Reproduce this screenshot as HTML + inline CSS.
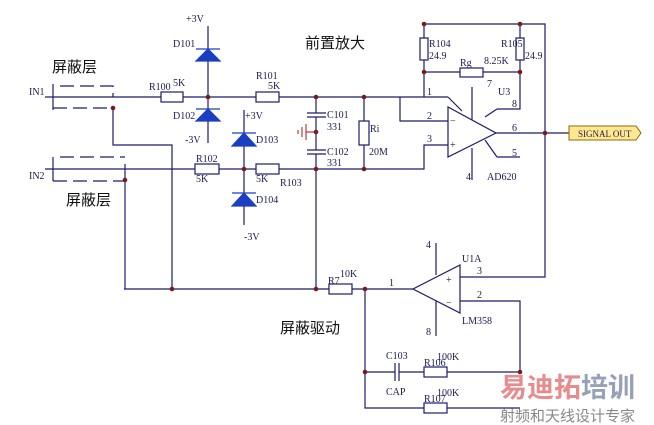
<!DOCTYPE html>
<html><head><meta charset="utf-8"><style>
html,body{margin:0;padding:0;background:#fff;}
svg{display:block;}
text{font-family:"Liberation Serif","Noto Serif CJK SC",serif;fill:#1a1a50;font-size:10px;}
.cn{font-family:"Liberation Sans","Noto Sans CJK SC",sans-serif;font-size:15px;fill:#111;}
</style></head><body>
<svg width="654" height="425" viewBox="0 0 654 425" xmlns="http://www.w3.org/2000/svg">
<g stroke="#1c1c6e" stroke-width="1.2" fill="none">
<!-- IN1 -->
<path d="M45 97H161M183 97H256M279 97H400H448"/>
<path d="M53 84V110"/>
<path d="M60 86H113V97" stroke-dasharray="14,6"/>
<path d="M53 108H113" stroke-dasharray="14,6"/>
<path d="M113 108V145H172V289"/>
<!-- IN2 -->
<path d="M45 169H195M219 169H256M279 169H424V145H448"/>
<path d="M53 157V181"/>
<path d="M60 157H125" stroke-dasharray="14,6"/>
<path d="M53 181H125" stroke-dasharray="14,6"/>
<path d="M125 164V289"/>
<!-- diodes lines -->
<path d="M208 26V143M244 110V225"/>
<!-- caps -->
<path d="M316 97V113M307 113H326M307 117H326M316 117V150M307 150H326M307 154H326M316 154V289"/>
<!-- Ri -->
<path d="M364 97V121M364 145V169"/>
<!-- pin2 -->
<path d="M400 97V121H448"/>
<!-- top feedback -->
<path d="M424 97V24H545V277H460M520 24V109H497M424 72H460M483 72H520"/>
<path d="M448 97L462 111M497 157H520M485 140L497 157M485 117L497 109"/>
<!-- U3 opamp -->
<path d="M448 107V157L496 133Z"/>
<path d="M472 87V120M472 148V180M496 133H569"/>
<!-- lower -->
<path d="M124 289H329M352 289H413M365 289V408H424M447 408H520M365 372H395M399 372H424M447 372H520V301H460"/>
<path d="M395 363V381M399 363V381"/>
<path d="M460 265V313L413 289Z"/>
<path d="M436 243V275M436 301V336"/>
</g>
<!-- resistors -->
<g stroke="#1c1c6e" stroke-width="1.2" fill="#fff">
<rect x="161" y="92" width="22" height="10"/><rect x="256" y="92" width="23" height="10"/>
<rect x="195" y="164" width="24" height="10"/><rect x="256" y="164" width="23" height="10"/>
<rect x="359" y="121" width="10" height="24"/>
<rect x="420" y="38" width="8" height="22"/><rect x="516" y="38" width="8" height="22"/>
<rect x="460" y="68" width="23" height="9"/>
<rect x="329" y="284" width="23" height="10"/>
<rect x="424" y="367" width="23" height="10"/><rect x="424" y="403" width="23" height="10"/>
</g>
<!-- diodes -->
<g fill="#1a3fc0" stroke="#1a3fc0" stroke-width="1.2">
<path d="M196 61L208 49L220 61Z"/><path d="M196 49H220"/>
<path d="M196 121L208 109L220 121Z"/><path d="M196 109H220"/>
<path d="M232 146L244 133L256 146Z"/><path d="M232 133H256"/>
<path d="M232 206L244 193L256 206Z"/><path d="M232 193H256"/>
</g>
<!-- ground -->
<g stroke="#b04040" stroke-width="1.2"><path d="M316 132H306M306 124V140M302 127V137M298 130V134"/></g>
<!-- dots -->
<g fill="#7a1a1a">
<circle cx="113" cy="108" r="2.3"/><circle cx="125" cy="180" r="2.3"/><circle cx="208" cy="97" r="2.3"/>
<circle cx="244" cy="169" r="2.3"/><circle cx="316" cy="97" r="2.3"/><circle cx="316" cy="132" r="2.3"/>
<circle cx="316" cy="169" r="2.3"/><circle cx="364" cy="97" r="2.3"/><circle cx="364" cy="169" r="2.3"/>
<circle cx="424" cy="24" r="2.3"/><circle cx="520" cy="24" r="2.3"/><circle cx="424" cy="72" r="2.3"/>
<circle cx="520" cy="72" r="2.3"/><circle cx="545" cy="133" r="2.3"/><circle cx="172" cy="289" r="2.3"/>
<circle cx="316" cy="289" r="2.3"/><circle cx="365" cy="289" r="2.3"/><circle cx="365" cy="372" r="2.3"/>
<circle cx="520" cy="372" r="2.3"/>
</g>
<!-- signal out -->
<path d="M569 126H636L641 133L636 140H569Z" fill="#ffe890" stroke="#8a6a10"/>
<text x="578" y="137" style="font-size:9px">SIGNAL OUT</text>
<!-- labels -->
<text x="29" y="95">IN1</text><text x="29" y="179">IN2</text>
<text x="186" y="22">+3V</text><text x="173" y="47">D101</text><text x="173" y="119">D102</text><text x="185" y="143">-3V</text>
<text x="149" y="90">R100</text><text x="173" y="86">5K</text>
<text x="256" y="79">R101</text><text x="268" y="89">5K</text>
<text x="245" y="119">+3V</text><text x="256" y="143">D103</text><text x="256" y="203">D104</text><text x="244" y="240">-3V</text>
<text x="196" y="162">R102</text><text x="196" y="182">5K</text><text x="256" y="182">5K</text><text x="280" y="186">R103</text>
<text x="327" y="118">C101</text><text x="327" y="130">331</text><text x="327" y="155">C102</text><text x="327" y="166">331</text>
<text x="370" y="132">Ri</text><text x="369" y="155">20M</text>
<text x="429" y="47">R104</text><text x="429" y="59">24.9</text><text x="501" y="47">R105</text><text x="525" y="59">24.9</text>
<text x="460" y="66">Rg</text><text x="484" y="64">8.25K</text>
<text x="427" y="95">1</text><text x="427" y="119">2</text><text x="427" y="142">3</text>
<text x="487" y="87">7</text><text x="498" y="95">U3</text><text x="512" y="107">8</text>
<text x="512" y="131">6</text><text x="512" y="156">5</text><text x="466" y="180">4</text><text x="487" y="180">AD620</text>
<text x="450" y="124">−</text><text x="450" y="148">+</text>
<text x="328" y="284">R7</text><text x="340" y="277">10K</text>
<text x="389" y="286">1</text><text x="477" y="274">3</text><text x="477" y="298">2</text>
<text x="462" y="262">U1A</text><text x="462" y="324">LM358</text>
<text x="426" y="248">4</text><text x="426" y="335">8</text>
<text x="446" y="283">+</text><text x="446" y="306">−</text>
<text x="386" y="359">C103</text><text x="386" y="395">CAP</text>
<text x="424" y="366">R106</text><text x="437" y="360">100K</text>
<text x="424" y="402">R107</text><text x="437" y="396">100K</text>
<text class="cn" x="52" y="72">屏蔽层</text>
<text class="cn" x="66" y="205">屏蔽层</text>
<text class="cn" x="305" y="48">前置放大</text>
<text class="cn" x="280" y="333">屏蔽驱动</text>
<!-- watermark -->
<text x="500" y="397" style="font-family:'Noto Sans CJK SC',sans-serif;font-size:27px;font-weight:bold;fill:#e07070;opacity:0.8">易迪拓</text>
<text x="581" y="397" style="font-family:'Noto Sans CJK SC',sans-serif;font-size:27px;font-weight:bold;fill:#7a8aa8;opacity:0.8">培训</text>
<text x="500" y="421" style="font-family:'Noto Sans CJK SC',sans-serif;font-size:15px;fill:#888">射频和天线设计专家</text>
</svg>
</body></html>
